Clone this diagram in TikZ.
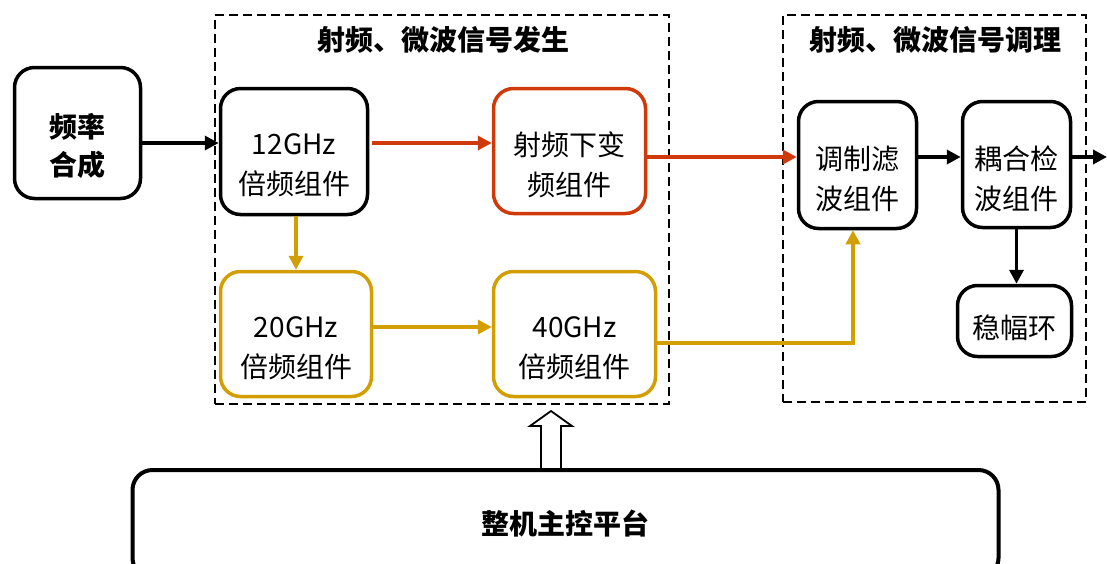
\documentclass[tikz,border=0pt]{standalone}
\usepackage{fontspec}
\setmainfont{Noto Sans CJK SC}
\usetikzlibrary{arrows.meta}
\definecolor{rfred}{RGB}{208,58,10}
\definecolor{gold}{RGB}{210,158,0}
\tikzset{
  lbl/.style={align=center, inner sep=0pt, font=\fontsize{28}{40}\selectfont},
  box/.style={draw=black, line width=3.5pt, rounded corners=20pt, fill=white, inner sep=0pt},
  txt/.style={label={[lbl, yshift=-14pt]center:#1}},
  btxt/.style={label={[lbl, font=\fontsize{28}{38}\selectfont\bfseries, yshift=-13pt]center:#1}},
  redbox/.style={box, draw=rfred},
  goldbox/.style={box, draw=gold},
  grp/.style={draw=black, dash pattern=on 9pt off 5pt, line width=2pt, inner sep=0pt},
  ttl/.style={font=\fontsize{28}{32}\selectfont\bfseries, inner sep=0pt},
  arr/.style={line width=3.5pt, -{Triangle[length=14pt,width=14pt]}},
}
\begin{document}
\begin{tikzpicture}[x=1pt,y=-1pt]
\useasboundingbox (0,0) rectangle (1107,563);
\begin{scope}
\clip (0,0) rectangle (1107,563);
% groups
\node[grp, minimum width=454, minimum height=389] (grpA) at (442,209.5) {};
\node[grp, minimum width=303, minimum height=387] (grpB) at (934.5,208.5) {};
\node[ttl] (ttlA) at (443,40) {射频、微波信号发生};
\node[ttl] (ttlB) at (935,40) {射频、微波信号调理};
% blocks
\node[box, minimum width=126, minimum height=131, btxt={频率\\合成}] (fs) at (77.5,133) {};
\node[box, minimum width=147, minimum height=126, txt={12GHz\\倍频组件}] (g12) at (294,151.5) {};
\node[redbox, minimum width=152, minimum height=125, txt={射频下变\\频组件}] (rf) at (569.5,151) {};
\node[goldbox, minimum width=151, minimum height=125, txt={20GHz\\倍频组件}] (g20) at (296,334) {};
\node[goldbox, minimum width=162, minimum height=125, txt={40GHz\\倍频组件}] (g40) at (574.5,334) {};
\node[box, minimum width=118, minimum height=127, txt={调制滤\\波组件}] (mod) at (857.5,165) {};
\node[box, minimum width=108, minimum height=126, txt={耦合检\\波组件}] (cpl) at (1016.5,164.5) {};
\node[box, minimum width=114, minimum height=71, label={[lbl, yshift=-7pt]center:稳幅环}] (wf) at (1014.5,321) {};
\node[box, line width=4pt, minimum width=866, minimum height=108] (main) at (565.5,524) {};
\node[font=\fontsize{28}{32}\selectfont\bfseries, inner sep=0pt] (mainlbl) at (565,524) {整机主控平台};
\coordinate (out) at (1107,157);
% connectors
\draw[arr] ([yshift=-10pt]fs.east) -- ([yshift=-10pt]fs.east -| g12.west);
\draw[arr, rfred] ([yshift=8.5pt,xshift=3pt]g12.east) -- ([yshift=8.5pt]g12.east -| rf.west);
\draw[arr, rfred] ([yshift=-6pt]rf.east) -- ([yshift=-6pt]rf.east -| mod.west);
\draw[arr, gold] ([xshift=2pt]g12.south) -- ([xshift=2pt]g12.south |- g20.north);
\draw[arr, gold] ([yshift=7pt]g20.east) -- ([yshift=7pt]g20.east -| g40.west);
\draw[arr, gold] ([yshift=-9pt]g40.east) -| ([xshift=-4.5pt]mod.south);
\draw[arr] ([yshift=8pt]mod.east) -- ([yshift=8pt]mod.east -| cpl.west);
\draw[arr] ([yshift=7.5pt]cpl.east) -- (out);
\draw[arr] (cpl.south) -- (cpl.south |- wf.north);
% hollow arrow
\draw[line width=1.8pt, fill=white, line join=miter]
  (541,469) -- (541,426) -- (530,426) -- (551,411) -- (572,426) -- (561,426) -- (561,469) -- cycle;
\end{scope}
\end{tikzpicture}
\end{document}
